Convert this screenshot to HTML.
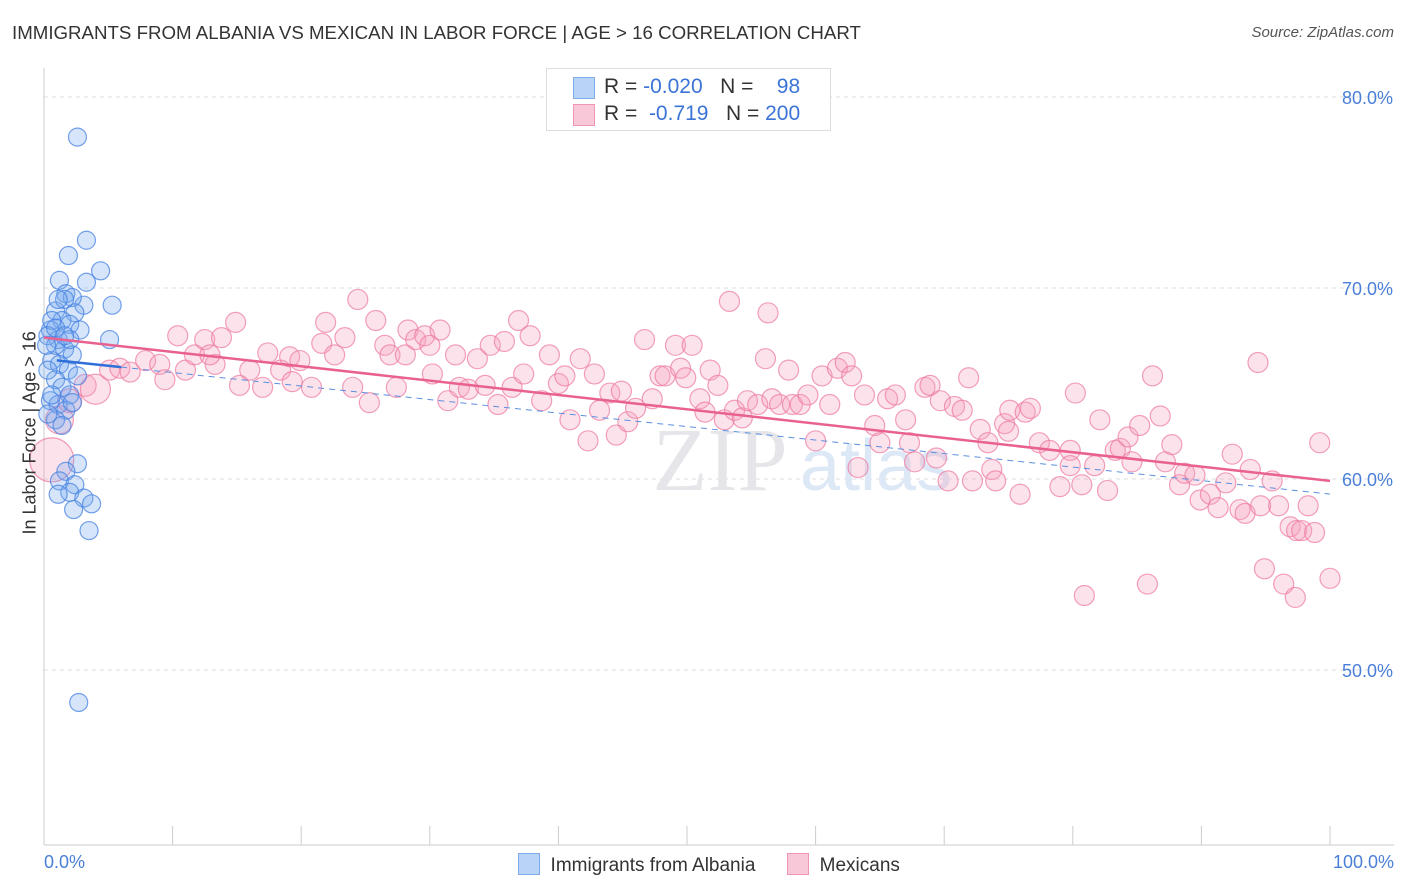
<!DOCTYPE html>
<html><head><meta charset="utf-8"><style>
body{margin:0;background:#fff;font-family:"Liberation Sans",sans-serif;}
#wrap{position:relative;width:1406px;height:892px;overflow:hidden;}
.t{position:absolute;white-space:nowrap;}
</style></head><body>
<div id="wrap">
<div class="t" style="left:12px;top:22px;font-size:18.7px;color:#333;">IMMIGRANTS FROM ALBANIA VS MEXICAN IN LABOR FORCE | AGE &gt; 16 CORRELATION CHART</div>
<div class="t" style="right:12px;top:24px;font-size:15px;color:#555;font-style:italic;">Source: ZipAtlas.com</div>
<svg id="svg" width="1406" height="892" style="position:absolute;left:0;top:0"></svg>
</div>
<script>
const yTicks=[50,60,70,80];
const yTickLabels=["50.0%","60.0%","70.0%","80.0%"];
const blueX=[2.6,3.3,1.9,4.4,3.3,1.2,5.3,3.1,1.7,2.2,2.4,0.9,1.4,2.0,2.8,5.1,0.5,1.1,1.6,2.2,0.6,1.2,1.9,2.6,0.9,1.4,2.0,0.5,1.1,1.7,2.2,0.9,1.4,2.6,1.7,1.2,2.4,2.0,1.1,3.1,3.7,2.3,3.5,2.7,0.6,0.3,0.9,0.3,0.6,1.6,2.0,1.1,0.2,0.3,0.9,1.6];
const blueY=[77.9,72.5,71.7,70.9,70.3,70.4,69.1,69.1,69.7,69.5,68.7,68.8,68.3,68.1,67.8,67.3,67.8,67.3,66.8,66.5,66.2,66.0,65.7,65.4,65.2,64.8,64.4,64.1,63.9,63.6,64.0,63.1,62.8,60.8,60.4,59.9,59.7,59.3,59.2,59.0,58.7,58.4,57.3,48.3,68.3,67.5,67.0,65.7,64.4,69.4,67.3,69.4,67.0,63.4,67.9,67.5];
const pinkX=[0.6,1.2,2.0,3.2,4.0,5.1,5.9,6.7,7.9,9.0,9.4,10.4,11.0,11.7,12.5,13.3,12.9,13.8,14.9,15.2,16.0,17.0,17.4,18.4,19.1,19.9,19.3,20.8,21.9,21.6,22.6,23.4,24.0,24.4,25.3,25.8,26.5,26.9,27.4,28.1,28.3,28.9,29.6,30.0,30.2,30.8,31.4,32.0,32.3,33.0,33.7,34.3,34.7,35.3,35.8,36.4,36.9,37.3,37.8,38.7,39.3,40.0,40.5,40.9,41.7,42.3,42.8,43.2,44.0,44.5,44.9,45.4,46.0,46.7,47.3,47.9,48.3,49.1,49.5,49.9,50.4,51.0,51.4,51.8,52.4,52.9,53.3,53.7,54.3,54.7,55.5,56.1,56.3,56.6,57.2,57.9,58.2,58.8,59.4,60.0,60.5,61.1,61.7,62.3,62.8,63.3,63.8,64.6,65.0,65.6,66.2,67.0,67.3,67.7,68.5,68.9,69.4,69.7,70.3,70.8,71.4,71.9,72.2,72.8,73.4,73.7,74.0,74.7,75.1,75.9,76.3,76.7,77.4,78.2,79.0,79.8,80.2,80.7,81.7,82.1,82.7,83.3,83.7,84.3,84.6,85.2,85.8,86.2,86.8,87.2,87.7,88.3,88.7,89.5,89.9,90.7,91.3,91.9,92.4,93.0,93.4,93.8,94.4,94.9,95.5,96.0,96.9,97.4,97.8,96.4,97.3,98.3,98.8,99.2,100,80.9,94.6,75.0,79.8];
const pinkY=[61.0,63.1,64.1,64.9,64.7,65.7,65.8,65.6,66.2,66.0,65.2,67.5,65.7,66.5,67.3,66.0,66.5,67.4,68.2,64.9,65.7,64.8,66.6,65.7,66.4,66.2,65.1,64.8,68.2,67.1,66.5,67.4,64.8,69.4,64.0,68.3,67.0,66.5,64.8,66.5,67.8,67.3,67.5,67.0,65.5,67.8,64.1,66.5,64.8,64.7,66.3,64.9,67.0,63.9,67.2,64.8,68.3,65.5,67.5,64.1,66.5,65.0,65.4,63.1,66.3,62.0,65.5,63.6,64.5,62.3,64.6,63.0,63.7,67.3,64.2,65.4,65.4,67.0,65.8,65.3,67.0,64.2,63.5,65.7,64.9,63.1,69.3,63.6,63.2,64.1,63.9,66.3,68.7,64.2,63.9,65.7,63.9,63.9,64.4,62.0,65.4,63.9,65.8,66.1,65.4,60.6,64.4,62.8,61.9,64.2,64.4,63.1,61.9,60.9,64.8,64.9,61.1,64.1,59.9,63.8,63.6,65.3,59.9,62.6,61.9,60.5,59.9,62.9,63.6,59.2,63.5,63.7,61.9,61.5,59.6,61.5,64.5,59.7,60.7,63.1,59.4,61.5,61.6,62.2,60.9,62.8,54.5,65.4,63.3,60.9,61.8,59.7,60.3,60.2,58.9,59.2,58.5,59.8,61.3,58.4,58.2,60.5,66.1,55.3,59.9,58.6,57.5,57.3,57.3,54.5,53.8,58.6,57.2,61.9,54.8,53.9,58.6,62.5,60.7];
const pinkR=[22,14,12,11,15];
const pinkA=67.4,pinkB=-7.5,blueA=66.28,blueB=-0.0707;
const X0=44,X1=1330,YT=97,YPX=19.1;
const sx=v=>X0+v*(X1-X0)/100, sy=v=>YT+(80-v)*YPX;
const svg=document.getElementById('svg');const NS='http://www.w3.org/2000/svg';
function mk(t,a){const e=document.createElementNS(NS,t);for(const k in a)e.setAttribute(k,a[k]);svg.appendChild(e);return e;}
yTicks.forEach((v,i)=>{const g=mk('line',{x1:X0,x2:1394,y1:sy(v),y2:sy(v),stroke:'#ddd','stroke-dasharray':'4,4'});


const t=mk('text',{x:1393,y:sy(v)+7,'text-anchor':'end','font-size':18,fill:'#4a7fd8','font-family':'Liberation Sans'});t.textContent=yTickLabels[i];

});
const ax=mk('line',{x1:X0,x2:X0,y1:68,y2:845,stroke:'#ccc'});


const bx=mk('line',{x1:X0,x2:1394,y1:845,y2:845,stroke:'#ccc'});


for(let i=0;i<=10;i++){const l=mk('line',{x1:sx(i*10),x2:sx(i*10),y1:826,y2:845,stroke:'#ccc'});

}
const wm=mk('text',{x:720,y:490,'text-anchor':'middle','font-size':90,fill:'#e6e6ea','font-family':'Liberation Serif'});wm.textContent='ZIP';


const wm2=mk('text',{x:800,y:490,'font-size':72,fill:'#dde8f6','font-family':'Liberation Sans'});wm2.textContent='atlas';


pinkX.forEach((x,i)=>{const c=mk('circle',{cx:sx(x),cy:sy(pinkY[i]),r:pinkR[i]||10,fill:'rgba(244,160,190,0.3)',stroke:'rgba(236,120,160,0.7)','stroke-width':1.2});

});
blueX.forEach((x,i)=>{const c=mk('circle',{cx:sx(x),cy:sy(blueY[i]),r:9,fill:'rgba(120,170,240,0.3)',stroke:'rgba(70,130,225,0.75)','stroke-width':1.2});

});
const pl=mk('line',{x1:sx(0),y1:sy(pinkA),x2:sx(100),y2:sy(pinkA+pinkB),stroke:'#e8618f','stroke-width':2.5});


const bl=mk('line',{x1:sx(1),y1:sy(blueA+blueB),x2:sx(6),y2:sy(blueA+blueB*6),stroke:'#2e6fd8','stroke-width':2.5});


const bd=mk('line',{x1:sx(6),y1:sy(blueA+blueB*6),x2:sx(100),y2:sy(blueA+blueB*100),stroke:'#5b8fe0','stroke-width':1,'stroke-dasharray':'6,5'});


</script>
<div class="t" style="left:-50px;top:444px;font-size:18px;color:#333;transform:rotate(-90deg);transform-origin:center;width:160px;text-align:center;">In Labor Force | Age &gt; 16</div>
<div class="t" style="left:44px;top:852px;font-size:18px;color:#4a7fd8;">0.0%</div>
<div class="t" style="right:12px;top:852px;font-size:18px;color:#4a7fd8;">100.0%</div>
<div style="position:absolute;left:546px;top:68px;width:283px;height:61px;border:1px solid #ddd;background:#fff;font-size:21px;">
<div style="position:absolute;left:26px;top:8px;width:20px;height:20px;background:#b9d3f7;border:1px solid #7ea9ec;"></div>
<div class="t" style="left:57px;top:6px;color:#333;">R = <span style="color:#3b74d6">-0.020</span>&nbsp;&nbsp;&nbsp;N = &nbsp;&nbsp;&nbsp;<span style="color:#3b74d6">98</span></div>
<div style="position:absolute;left:26px;top:35px;width:20px;height:20px;background:#f9c8d8;border:1px solid #ef96b3;"></div>
<div class="t" style="left:57px;top:33px;color:#333;">R = &nbsp;<span style="color:#3b74d6">-0.719</span>&nbsp;&nbsp;&nbsp;N = <span style="color:#3b74d6">200</span></div>
</div>
<div style="position:absolute;left:518px;top:853px;font-size:19px;color:#333;">
<span style="display:inline-block;width:20px;height:20px;background:#b9d3f7;border:1px solid #7ea9ec;vertical-align:-4px;"></span>&nbsp; Immigrants from Albania&nbsp;&nbsp;&nbsp;&nbsp;&nbsp;
<span style="display:inline-block;width:20px;height:20px;background:#f9c8d8;border:1px solid #ef96b3;vertical-align:-4px;"></span>&nbsp; Mexicans</div>
</body></html>
